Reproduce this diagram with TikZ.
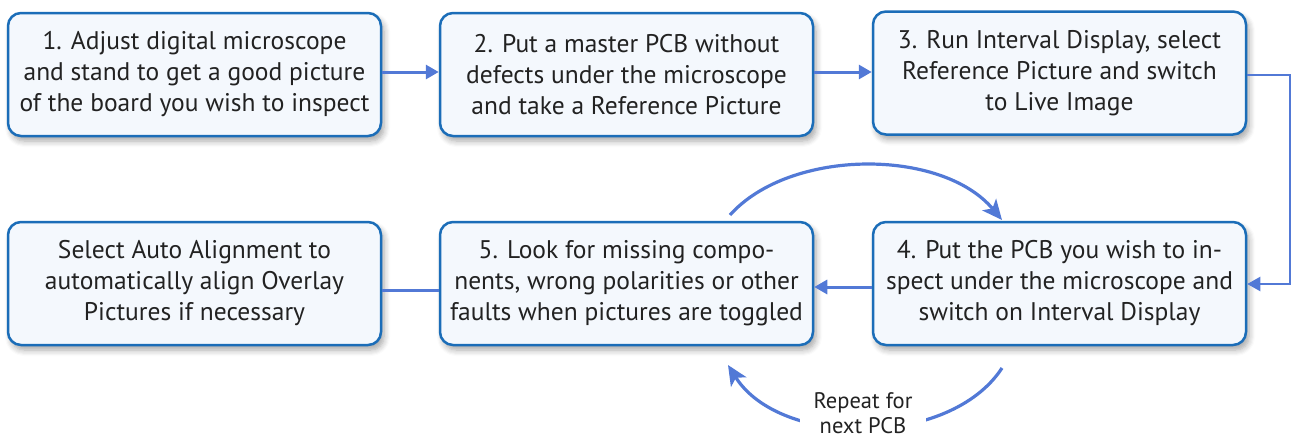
\documentclass[tikz,border=0pt]{standalone}
\usepackage{fontspec}
\setmainfont{PT Sans}
\usetikzlibrary{arrows.meta,shadows.blur}
\definecolor{boxline}{HTML}{1B6DB8}
\definecolor{boxfill}{HTML}{F4F8FD}
\definecolor{arr}{HTML}{5279D6}
\definecolor{txt}{HTML}{222222}
\tikzset{
  stepbox/.style={draw=boxline, fill=boxfill, line width=2.5pt, rounded corners=13pt,
    minimum width=373pt, minimum height=123pt, align=center, text=txt,
    font=\fontsize{25.5}{31}\selectfont, inner sep=0pt,
    blur shadow={shadow xshift=3pt, shadow yshift=-5pt, shadow blur steps=6, shadow opacity=35, shadow blur radius=6pt}},
  conn/.style={draw=arr, line width=3pt, -{Triangle[length=13pt,width=14pt]}},
  plain/.style={draw=arr, line width=3pt},
  curvy/.style={draw=arr, line width=3.2pt, -{Stealth[length=20pt,width=18pt,inset=5pt]}},
  lbl/.style={text=txt, font=\fontsize{22.5}{25}\selectfont, align=center, fill=white, inner xsep=14pt, inner ysep=1pt}
}
\begin{document}
\begin{tikzpicture}[x=1pt,y=-1pt]
\useasboundingbox (0,0) rectangle (1294,439);
\node[stepbox] (b1) at (194.5,74.5) {1. Adjust digital microscope\\and stand to get a good picture\\of the board you wish to inspect};
\node[stepbox] (b2) at (626.5,74.5) {2. Put a master PCB without\\defects under the microscope\\and take a Reference Picture};
\node[stepbox] (b3) at (1059.5,73) {3. Run Interval Display, select\\Reference Picture and switch\\to Live Image};
\node[stepbox] (b4) at (1059.5,283.5) {4. Put the PCB you wish to in-\\spect under the microscope and\\switch on Interval Display};
\node[stepbox] (b5) at (626.5,283.5) {5. Look for missing compo-\\nents, wrong polarities or other\\faults when pictures are toggled};
\node[stepbox] (b6) at (194.5,283.5) {Select Auto Alignment to\\automatically align Overlay\\Pictures if necessary};

\draw[conn] (b1.east |- 0,72) -- (b2.west |- 0,72);
\draw[conn] (b2.east |- 0,72) -- (b3.west |- 0,72);
\coordinate (r1) at (1290,75);
\coordinate (r2) at (1290,284);
\draw[draw=arr, line width=2.2pt, -{Triangle[length=13pt,width=14pt]}] (b3.east |- r1) -- (r1) -- (r2) -- (b4.east |- r2);
\draw[conn] (b4.west |- 0,287) -- (b5.east |- 0,287);
\draw[plain] (b5.west |- 0,290) -- (b6.east |- 0,290);

\coordinate (t0) at (730,215);
\draw[curvy] (t0) .. controls (790,148) and (942,148) .. (1002,220);
\coordinate (u0) at (1002,368);
\coordinate (u1) at (728,365);
\draw[curvy] (u0) .. controls (950,448) and (780,448) .. (u1);
\node[lbl] (rep) at (863,413) {Repeat for\\next PCB};
\end{tikzpicture}
\end{document}
